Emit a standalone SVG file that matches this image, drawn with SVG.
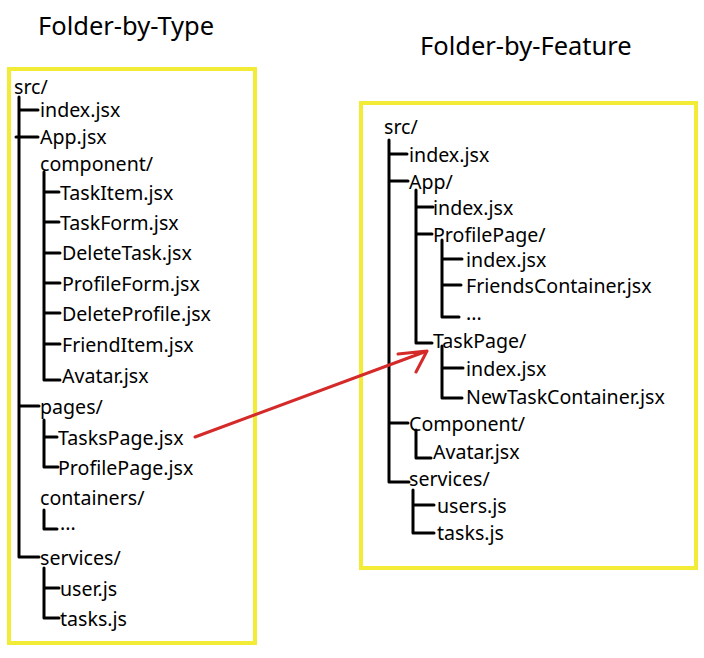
<svg xmlns="http://www.w3.org/2000/svg" width="704" height="658" viewBox="0 0 704 658">
<style>
.t{font-family:"Noto Sans","Open Sans",sans-serif;font-size:19.6px;fill:#000}
.h{font-family:"Noto Sans","Open Sans",sans-serif;font-size:25.5px;fill:#000}
.box{fill:none;stroke:#f2ec36;stroke-width:4}
.tr{fill:none;stroke:#000;stroke-width:3;stroke-linecap:round;stroke-linejoin:round}
.ar{fill:none;stroke:#d42a2a;stroke-width:3;stroke-linecap:round;stroke-linejoin:round}
</style>
<rect width="704" height="658" fill="#fff"/>
<g id="type">
<text class="h" x="38" y="35">Folder-by-Type</text>
<rect class="box" x="9" y="69" width="246" height="574"/>
<g class="t">
<text x="14" y="94">src/</text>
<text x="40" y="117">index.jsx</text>
<text x="40" y="144">App.jsx</text>
<text x="40" y="171">component/</text>
<text x="60" y="200">TaskItem.jsx</text>
<text x="60" y="230">TaskForm.jsx</text>
<text x="62" y="260">DeleteTask.jsx</text>
<text x="62" y="291">ProfileForm.jsx</text>
<text x="62" y="321">DeleteProfile.jsx</text>
<text x="62" y="352">FriendItem.jsx</text>
<text x="62" y="383">Avatar.jsx</text>
<text x="40" y="414">pages/</text>
<text x="58" y="445">TasksPage.jsx</text>
<text x="58" y="475">ProfilePage.jsx</text>
<text x="40" y="505">containers/</text>
<text x="60" y="530">...</text>
<text x="40" y="565">services/</text>
<text x="60" y="596">user.js</text>
<text x="60" y="626">tasks.js</text>
</g>
</g>
<g id="feature">
<text class="h" x="420" y="55">Folder-by-Feature</text>
<rect class="box" x="361" y="103" width="335" height="465"/>
<g class="t">
<text x="384" y="134">src/</text>
<text x="409" y="162">index.jsx</text>
<text x="409" y="189">App/</text>
<text x="433" y="215">index.jsx</text>
<text x="433" y="242">ProfilePage/</text>
<text x="466" y="267">index.jsx</text>
<text x="466" y="293">FriendsContainer.jsx</text>
<text x="466" y="320">...</text>
<text x="433" y="348">TaskPage/</text>
<text x="466" y="376">index.jsx</text>
<text x="466" y="404">NewTaskContainer.jsx</text>
<text x="409" y="431">Component/</text>
<text x="433" y="459">Avatar.jsx</text>
<text x="409" y="486">services/</text>
<text x="437" y="513">users.js</text>
<text x="437" y="540">tasks.js</text>
</g>
</g>
<g id="connectors">
<path class="tr" d="M19 97V557H39M19 110H38M16 137H38M19 406H39M44 172V380H60M44 192H59M44 222H59M44 253H60M44 283H60M44 313H60M44 344H60M44 420V467H58M44 437H57M44 510V529H57M44 568V618H59M44 588H59"/>
<path class="tr" d="M389 140V482H409M389 154H407M389 181H408M389 423H408M416 190V343H432M416 207H433M416 234H432M442 240V317H459M442 259H462M442 285H461M442 346V398H462M442 368H463M416 430V458H431M413 490V533H434M413 505H434"/>
<path class="ar" d="M195 437L427 351M398 354L427 351L416 372"/>
</g>
</svg>
